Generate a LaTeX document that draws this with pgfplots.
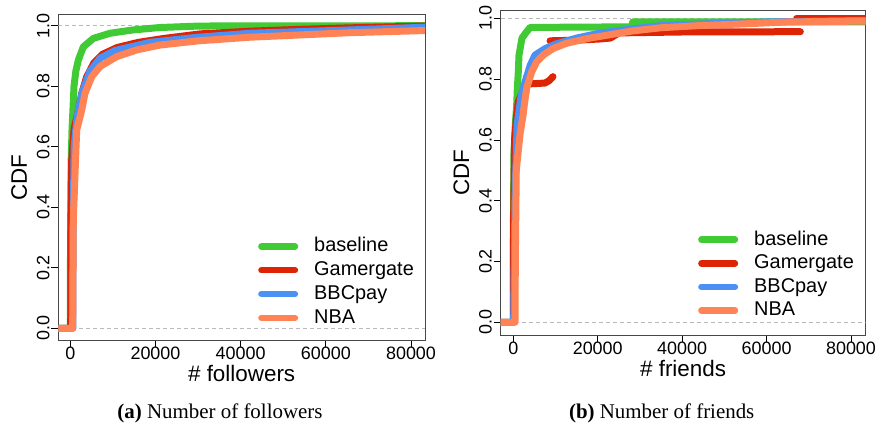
\documentclass[border=0pt]{standalone}
\usepackage{fontspec}
\setmainfont{Liberation Sans}
\newfontfamily\capfont{Liberation Serif}
\usepackage{pgfplots}
\pgfplotsset{compat=1.18}

\definecolor{cbase}{RGB}{64,202,52}
\definecolor{cgg}{RGB}{221,36,4}
\definecolor{cbbc}{RGB}{74,144,245}
\definecolor{cnba}{RGB}{255,131,84}
\definecolor{refgray}{RGB}{185,185,185}

\pgfplotsset{
  cdfpanel/.style={
    scale only axis,
    anchor=south west,
    axis line style={black!72, line width=0.8bp},
    tick style={black, line width=0.8bp},
    tick align=outside,
    major tick length=7bp,
    xtick pos=bottom, ytick pos=left,
    xtick={0,20000,40000,60000,80000},
    ytick={0,0.2,0.4,0.6,0.8,1.0},
    scaled x ticks=false,
    /pgf/number format/assume math mode=true,
    xticklabel style={/pgf/number format/1000 sep={}, font=\fontsize{18}{20}\selectfont,
      inner sep=0pt, anchor=north},
    yticklabel style={/pgf/number format/fixed, /pgf/number format/fixed zerofill,
      /pgf/number format/precision=1, font=\fontsize{18}{20}\selectfont,
      inner sep=0pt, rotate=90, anchor=base},
    xticklabel shift=0bp,
    yticklabel shift=2bp,
    label style={font=\fontsize{22.5}{26}\selectfont, inner sep=0pt},
    xlabel style={at={([yshift=-41.7bp]axis description cs:0.5,0)}, anchor=base},
    ylabel style={at={([xshift=-31.5bp]axis description cs:0,0.5)}, anchor=base, rotate=0},
    ylabel={CDF},
    clip=true,
    every axis plot/.append style={line width=7bp, line join=round, line cap=round},
    legend cell align=left,
    legend image code/.code={\draw[#1, line width=6.5bp] (3.25bp,0bp) -- (36.75bp,0bp);},
    legend style={draw=none, fill=none, inner sep=0pt, anchor=north west,
      font=\fontsize{20}{24}\selectfont, column sep=16bp,
      nodes={inner sep=0pt, text height=14.5bp, text depth=3.5bp}},
  },
  refline/.style={refgray, line width=0.9bp, dash pattern=on 4bp off 3bp, line cap=butt, forget plot},
}

\begin{document}
\begin{tikzpicture}
\useasboundingbox (0,0) rectangle (881bp,426bp);

% ---------- (a) followers ----------
\begin{axis}[cdfpanel,
  at={(58.3bp,86bp)}, width=366.7bp, height=325.3bp,
  xmin=-2818, xmax=83287, ymin=-0.0387, ymax=1.0364,
  xlabel={\# followers},
  legend style={at={(axis cs:44070,0.301)}, row sep=5.8bp},
]
\addplot[refline] coordinates {(-2818,0) (83287,0)};
\addplot[refline] coordinates {(-2818,1) (83287,1)};

\addplot[cbase] coordinates {
(-2818,0) (0,0) (60,0.3) (200,0.55) (400,0.655) (870,0.80) (1300,0.85) (1900,0.887)
(3050,0.93) (5400,0.958) (9300,0.975) (14700,0.986) (21000,0.994) (30500,0.999) (83300,1.0)};
\addlegendentry{baseline}

\addplot[cgg] coordinates {
(-2818,0) (100,0) (150,0.3) (300,0.55) (900,0.66) (1900,0.72) (2700,0.777) (3850,0.831)
(5500,0.876) (7500,0.905) (11000,0.928) (16000,0.945) (22000,0.958) (30500,0.973)
(42200,0.982) (53900,0.988) (65700,0.993) (83300,0.999)};
\addlegendentry{Gamergate}

\addplot[cbbc] coordinates {
(-2818,0) (600,0) (650,0.3) (900,0.6) (1600,0.7) (2800,0.78) (4630,0.85) (7000,0.893)
(10500,0.918) (18700,0.945) (30000,0.962) (42200,0.975) (65700,0.986) (83300,0.995)};
\addlegendentry{BBCpay}

\addplot[cnba] coordinates {
(-2818,0) (560,0) (700,0.36) (1500,0.655) (2680,0.721) (3450,0.777) (5020,0.831)
(6970,0.865) (10900,0.898) (15600,0.92) (21000,0.936) (30000,0.95) (42200,0.962)
(65700,0.977) (83300,0.984)};
\addlegendentry{NBA}
\end{axis}

% ---------- (b) friends ----------
\begin{axis}[cdfpanel,
  at={(500.7bp,91bp)}, width=364.8bp, height=324.5bp,
  xmin=-2985, xmax=83435, ymin=-0.0418, ymax=1.0257,
  xlabel={\# friends},
  legend style={at={(axis cs:43750,0.302)}, row sep=5.6bp},
]
\addplot[refline] coordinates {(-2985,0) (83435,0)};
\addplot[refline] coordinates {(-2985,1) (83435,1)};

\addplot[cbase] coordinates {
(-2985,0) (0,0) (0,0.25) (150,0.55) (480,0.65) (800,0.715) (950,0.77) (1190,0.824)
(1350,0.879) (2060,0.935) (3170,0.956) (4000,0.97) (28000,0.972) (28300,0.988) (83435,0.988)};
\addlegendentry{baseline}

\addplot[cgg] coordinates {
(-2985,0) (0,0) (50,0.3) (300,0.6) (800,0.682) (1180,0.726) (2500,0.765) (3500,0.784)
(7500,0.787) (8500,0.795) (9400,0.808)};
\addlegendentry{Gamergate}
\addplot[cgg, forget plot] coordinates {
(8700,0.926) (15000,0.928) (20500,0.932) (23000,0.935) (25000,0.952) (40000,0.955) (68000,0.956)};
\addplot[cgg, forget plot] coordinates {(67100,1.0) (83435,1.0)};

\addplot[cbbc] coordinates {
(-2985,0) (0,0) (100,0.02) (400,0.4) (900,0.65) (1800,0.74) (2770,0.79) (4000,0.845)
(5140,0.879) (7500,0.9) (10000,0.915) (15000,0.935) (20000,0.95) (28000,0.965)
(35000,0.976) (44000,0.981) (60000,0.988) (83435,0.993)};
\addlegendentry{BBCpay}

\addplot[cnba] coordinates {
(-2985,0) (400,0) (480,0.2) (700,0.5) (1600,0.62) (2300,0.68) (2600,0.715) (3170,0.77)
(4360,0.824) (5540,0.857) (7100,0.879) (9480,0.901) (12650,0.918) (17770,0.934)
(23300,0.947) (28000,0.958) (35000,0.969) (44000,0.976) (55000,0.982) (65000,0.988)
(83435,0.991)};
\addlegendentry{NBA}
\end{axis}

% ---------- sub-captions ----------
\node[anchor=base, inner sep=0pt, font=\capfont\fontsize{21}{24}\selectfont]
  at (220bp,8bp) {\textbf{(a)} Number of followers};
\node[anchor=base, inner sep=0pt, font=\capfont\fontsize{21}{24}\selectfont]
  at (661.7bp,8bp) {\textbf{(b)} Number of friends};
\end{tikzpicture}
\end{document}
